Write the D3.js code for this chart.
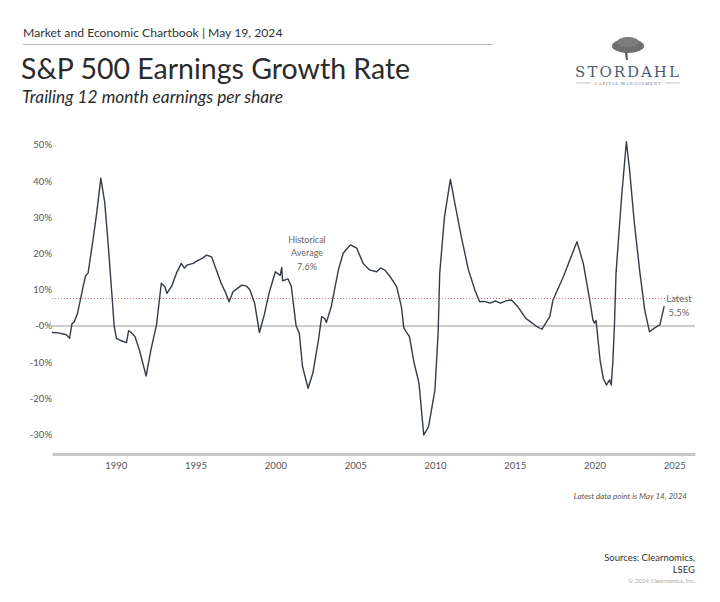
<!DOCTYPE html>
<html>
<head>
<meta charset="utf-8">
<script src="https://cdn.jsdelivr.net/npm/d3@7"></script>
<style>
	body { margin: 0; background: #fff; }
	svg { display: block; }
</style>
</head>
<body>
<svg id="chart" width="720" height="602"></svg>
<script>
// trailing 12m EPS growth (decimal year, percent)
var dates = [1986.0, 1986.4, 1986.7, 1986.9, 1987.1, 1987.25, 1987.4, 1987.6, 1987.95, 1988.1,
	1988.26, 1988.6, 1988.8, 1989.06, 1989.3, 1989.5, 1989.7, 1989.9, 1990.04, 1990.3,
	1990.67, 1990.8, 1990.9, 1991.2, 1991.5, 1991.9, 1992.2, 1992.55, 1992.85, 1993.07,
	1993.2, 1993.5, 1993.8, 1994.1, 1994.3, 1994.45, 1994.85, 1995.1, 1995.4, 1995.7,
	1996.0, 1996.3, 1996.6, 1996.9, 1997.1, 1997.35, 1997.9, 1998.2, 1998.4, 1998.7,
	1999.0, 1999.3, 1999.6, 2000.0, 2000.3, 2000.4, 2000.45, 2000.8, 2001.0, 2001.3,
	2001.5, 2001.7, 2002.05, 2002.35, 2002.7, 2002.9, 2003.1, 2003.2, 2003.5, 2003.95,
	2004.25, 2004.7, 2005.1, 2005.5, 2005.9, 2006.35, 2006.6, 2006.85, 2007.2, 2007.6,
	2007.9, 2008.05, 2008.2, 2008.4, 2008.7, 2009.0, 2009.3, 2009.45, 2009.6, 2010.0,
	2010.2, 2010.3, 2010.6, 2010.97, 2011.25, 2011.65, 2012.1, 2012.5, 2012.8, 2013.1,
	2013.45, 2013.8, 2014.1, 2014.5, 2014.8, 2015.2, 2015.7, 2016.4, 2016.7, 2017.2,
	2017.4, 2018.05, 2018.7, 2018.9, 2019.3, 2019.7, 2019.9, 2020.0, 2020.1, 2020.35,
	2020.55, 2020.75, 2020.95, 2021.05, 2021.15, 2021.25, 2021.35, 2021.7, 2022.0, 2022.2,
	2022.5, 2022.85, 2023.15, 2023.45, 2023.75, 2024.1, 2024.37];
var growth = [-1.8, -1.9, -2.2, -2.4, -3.4, 0.6, 1.2, 3.5, 10.9, 13.8,
	14.6, 24.7, 31.2, 40.8, 34.3, 23.8, 11.9, -0.2, -3.4, -4.0,
	-4.6, -1.3, -1.6, -2.9, -7.0, -13.8, -6.6, 0.3, 11.8, 10.9,
	9.0, 11.0, 14.6, 17.3, 16.0, 16.8, 17.3, 18.0, 18.7, 19.6,
	19.1, 15.5, 11.8, 9.0, 6.7, 9.5, 11.3, 11.0, 10.0, 6.3,
	-1.8, 3.0, 9.0, 15.0, 14.0, 16.2, 12.5, 13.0, 10.9, 0.0,
	-2.0, -11.2, -17.2, -13.0, -3.9, 2.6, 2.0, 1.0, 5.3, 15.5,
	20.1, 22.4, 21.5, 17.3, 15.5, 15.0, 16.0, 15.5, 13.6, 10.9,
	5.3, -0.5, -1.6, -2.9, -10.3, -15.8, -30.1, -29.0, -27.8, -17.7,
	-2.0, 14.6, 30.2, 40.5, 33.9, 24.7, 15.5, 10.0, 6.7, 6.8,
	6.3, 6.9, 6.3, 7.0, 7.2, 5.3, 2.1, -0.2, -0.9, 2.6,
	7.2, 13.6, 21.0, 23.3, 17.3, 7.2, 1.7, 0.8, 1.5, -9.4,
	-14.5, -16.3, -14.9, -16.3, -10.0, 0.0, 14.6, 35.7, 50.9, 43.1,
	28.4, 14.6, 4.4, -1.6, -0.6, 0.3, 5.5];

var histAverage = 7.6;
var latestValue = 5.5;
var yTicks = [-30, -20, -10, 0, 10, 20, 30, 40, 50];
var yTickLabels = ["-30%", "-20%", "-10%", "-0%", "10%", "20%", "30%", "40%", "50%"];
var xTicks = [1990, 1995, 2000, 2005, 2010, 2015, 2020, 2025];

var FONT = "Lato, 'Open Sans', sans-serif";
var LINE_COLOR = '#333b48';

var svg = d3.select("#chart");

var x = d3.scaleLinear().domain([1986, 2026.3]).range([52, 695]);
var y = d3.scaleLinear().domain([-35.36, 50]).range([454, 145]);

// header
svg.append("text")
	.attr("x", 23).attr("y", 37)
	.style("font-family", FONT).style("font-size", "12.2px").style("fill", "#333")
	.text("Market and Economic Chartbook | May 19, 2024");
svg.append("line")
	.attr("x1", 23).attr("x2", 493).attr("y1", 44.5).attr("y2", 44.5)
	.style("stroke", "#bbb").style("stroke-width", 1);
svg.append("text")
	.attr("x", 21).attr("y", 79)
	.style("font-family", FONT).style("font-size", "28.5px").style("fill", "#2b2b2b")
	.text("S&P 500 Earnings Growth Rate");
svg.append("text")
	.attr("x", 22).attr("y", 103)
	.style("font-family", FONT).style("font-size", "17.3px").style("font-style", "italic").style("fill", "#2b2b2b")
	.text("Trailing 12 month earnings per share");

// logo
var logo = svg.append("g").attr("class", "logo");
logo.append("path")
	.attr("d", "M626,60 L624,48 L627,48 L628,60 Z")
	.style("fill", "#5f5f5f");
logo.append("ellipse")
	.attr("cx", 628).attr("cy", 46).attr("rx", 16).attr("ry", 7)
	.style("fill", "#6f6f6f");
logo.append("ellipse")
	.attr("cx", 628).attr("cy", 42).attr("rx", 11).attr("ry", 5)
	.style("fill", "#7d7d7d");
logo.append("text")
	.attr("x", 628).attr("y", 77).attr("text-anchor", "middle")
	.style("font-family", "'DejaVu Serif', 'Liberation Serif', serif").style("font-size", "15px")
	.style("letter-spacing", "2px").style("fill", "#4d5b70")
	.text("STORDAHL");
logo.append("text")
	.attr("x", 628).attr("y", 84.5).attr("text-anchor", "middle")
	.style("font-family", "'Liberation Serif', serif").style("font-size", "4.5px")
	.style("letter-spacing", "0.8px").style("fill", "#6a7488")
	.text("CAPITAL MANAGEMENT");
logo.append("line").attr("x1", 576).attr("x2", 591).attr("y1", 83).attr("y2", 83)
	.style("stroke", "#8a93a3").style("stroke-width", 0.6);
logo.append("line").attr("x1", 665).attr("x2", 680).attr("y1", 83).attr("y2", 83)
	.style("stroke", "#8a93a3").style("stroke-width", 0.6);

// y tick labels
svg.append("g")
	.selectAll("text")
	.data(yTicks)
	.enter().append("text")
	.attr("x", 52)
	.attr("y", function(d) { return y(d); })
	.attr("dy", "0.35em")
	.attr("text-anchor", "end")
	.style("font-family", FONT).style("font-size", "9.5px").style("fill", "#555")
	.text(function(d, i) { return yTickLabels[i]; });

// x axis
var xAxis = d3.axisBottom(x)
	.tickValues(xTicks)
	.tickFormat(d3.format("d"))
	.tickSize(0)
	.tickPadding(8);
var gx = svg.append("g")
	.attr("transform", "translate(0," + y(-35.36) + ")")
	.call(xAxis);
gx.select(".domain").style("stroke", "#c9c9c9").style("stroke-width", 3);
gx.selectAll("text")
	.style("font-family", FONT).style("font-size", "9.5px").style("fill", "#555");

// zero line
svg.append("line")
	.attr("x1", x.range()[0]).attr("x2", x.range()[1])
	.attr("y1", y(0)).attr("y2", y(0))
	.style("stroke", "#9a9a9a").style("stroke-width", 1);

// historical average
svg.append("line")
	.attr("x1", x.range()[0]).attr("x2", x(2025.6))
	.attr("y1", y(histAverage)).attr("y2", y(histAverage))
	.style("stroke", "#d77b7b").style("stroke-width", 1)
	.style("stroke-dasharray", "1,2");

var line = d3.line()
	.x(function(d, i) { return x(dates[i]); })
	.y(function(d) { return y(d); });

svg.append("path")
	.datum(growth)
	.attr("d", line)
	.style("fill", "none")
	.style("stroke", LINE_COLOR)
	.style("stroke-width", 1.4)
	.style("stroke-linejoin", "round");

// annotations
var avgNote = svg.append("text")
	.attr("text-anchor", "middle")
	.style("font-family", FONT).style("font-size", "9px").style("fill", "#666");
["Historical", "Average", d3.format(".1f")(histAverage) + "%"].forEach(function(t, i) {
	avgNote.append("tspan").attr("x", 307).attr("y", 243 + i * 13.3).text(t);
});

var latestNote = svg.append("text")
	.attr("text-anchor", "middle")
	.style("font-family", FONT).style("font-size", "9.5px").style("fill", "#666");
["Latest", d3.format(".1f")(latestValue) + "%"].forEach(function(t, i) {
	latestNote.append("tspan").attr("x", 679).attr("y", 302 + i * 14).text(t);
});

// footer
svg.append("text")
	.attr("x", 687).attr("y", 499).attr("text-anchor", "end")
	.style("font-family", FONT).style("font-size", "8px").style("font-style", "italic").style("fill", "#555")
	.text("Latest data point is May 14, 2024");
svg.append("text")
	.attr("x", 695).attr("y", 561).attr("text-anchor", "end")
	.style("font-family", FONT).style("font-size", "9.5px").style("fill", "#333")
	.text("Sources: Clearnomics,");
svg.append("text")
	.attr("x", 695).attr("y", 573).attr("text-anchor", "end")
	.style("font-family", FONT).style("font-size", "9.5px").style("fill", "#333")
	.text("LSEG");
svg.append("text")
	.attr("x", 695).attr("y", 583).attr("text-anchor", "end")
	.style("font-family", FONT).style("font-size", "6px").style("fill", "#aaa")
	.text("\u00a9 2024 Clearnomics, Inc.");
</script>
</body>
</html>
